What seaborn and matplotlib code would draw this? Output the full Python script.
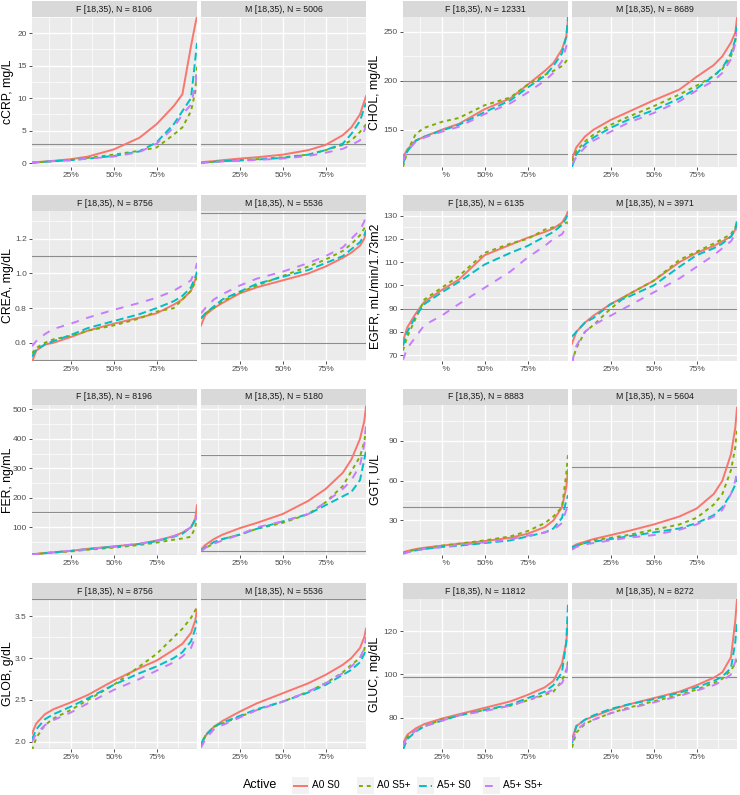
import numpy as np
import pandas as pd
import seaborn as sns
import matplotlib
matplotlib.use("Agg")
import matplotlib.pyplot as plt
from matplotlib.patches import Rectangle
from matplotlib.ticker import FixedLocator, FuncFormatter

# groups / styles
groups = ["A0 S0", "A0 S5+", "A5+ S0", "A5+ S5+"]
colors = ["#F8766D", "#7CAE00", "#00BFC4", "#C77CFF"]
dash_list = ["", (2, 2), (4, 2), (4, 4)]

# quantile grid (x axis)
q = [0.025, 0.05, 0.1, 0.15, 0.25, 0.35, 0.5, 0.65, 0.75, 0.85, 0.9, 0.95, 0.975, 0.985]

# ---- values, one row per group (A0 S0, A0 S5+, A5+ S0, A5+ S5+)
crp_f = [[0.1, 0.15, 0.25, 0.35, 0.6, 1.0, 2.1, 3.9, 6.0, 8.8, 10.6, 18.0, 21.4, 22.6],
         [0.05, 0.1, 0.2, 0.3, 0.5, 0.8, 1.3, 1.9, 2.4, 4.4, 5.5, 8.0, 11.0, 15.0],
         [0.05, 0.1, 0.2, 0.3, 0.45, 0.7, 1.1, 1.8, 3.2, 6.0, 8.0, 10.0, 16.0, 18.5],
         [0.05, 0.1, 0.2, 0.3, 0.45, 0.7, 1.0, 1.7, 3.0, 5.5, 7.5, 9.0, 12.0, 14.0]]
crp_m = [[0.1, 0.2, 0.3, 0.45, 0.7, 0.9, 1.3, 2.0, 2.8, 4.3, 5.5, 7.5, 9.5, 10.3],
         [0.05, 0.1, 0.2, 0.3, 0.45, 0.6, 0.9, 1.3, 2.0, 2.8, 3.5, 4.8, 5.6, 6.0],
         [0.05, 0.1, 0.2, 0.3, 0.4, 0.55, 0.8, 1.3, 2.0, 3.0, 4.5, 6.5, 8.5, 9.3],
         [0.05, 0.1, 0.15, 0.25, 0.35, 0.5, 0.7, 1.1, 1.6, 2.2, 2.8, 3.5, 5.0, 5.7]]
chol_f = [[122, 130, 139, 143, 150, 156, 171, 182, 196, 210, 218, 232, 245, 262],
          [112, 128, 146, 152, 158, 162, 175, 183, 196, 206, 210, 215, 220, 225],
          [115, 128, 139, 143, 149, 155, 168, 180, 193, 205, 215, 228, 245, 265],
          [118, 128, 138, 142, 148, 153, 166, 177, 188, 200, 208, 220, 235, 245]]
chol_m = [[120, 132, 143, 150, 160, 168, 180, 191, 204, 216, 225, 239, 249, 264],
          [118, 128, 138, 145, 155, 163, 174, 186, 195, 205, 212, 225, 240, 255],
          [112, 125, 135, 142, 152, 160, 170, 182, 192, 205, 213, 228, 242, 258],
          [115, 122, 132, 139, 148, 157, 167, 179, 190, 200, 208, 222, 238, 250]]
crea_f = [[0.49, 0.555, 0.59, 0.6, 0.633, 0.67, 0.71, 0.745, 0.77, 0.82, 0.85, 0.9, 0.965, 0.98],
          [0.54, 0.57, 0.6, 0.62, 0.64, 0.67, 0.7, 0.74, 0.78, 0.8, 0.85, 0.9, 0.95, 0.99],
          [0.52, 0.56, 0.59, 0.61, 0.645, 0.685, 0.725, 0.765, 0.8, 0.84, 0.87, 0.92, 0.98, 1.01],
          [0.58, 0.61, 0.65, 0.68, 0.71, 0.745, 0.79, 0.83, 0.86, 0.9, 0.93, 0.96, 1.02, 1.06]]
crea_m = [[0.7, 0.76, 0.8, 0.83, 0.885, 0.92, 0.96, 1.0, 1.04, 1.09, 1.12, 1.16, 1.2, 1.24],
          [0.74, 0.77, 0.8, 0.84, 0.89, 0.93, 0.985, 1.04, 1.08, 1.13, 1.17, 1.22, 1.26, 1.27],
          [0.74, 0.77, 0.81, 0.85, 0.895, 0.94, 0.98, 1.02, 1.06, 1.1, 1.14, 1.18, 1.22, 1.25],
          [0.77, 0.8, 0.85, 0.88, 0.93, 0.97, 1.01, 1.06, 1.1, 1.15, 1.2, 1.25, 1.3, 1.34]]
egfr_f = [[76, 82, 88, 93, 98, 102.5, 113, 117.5, 120.5, 123, 124.5, 127, 130, 132],
          [72, 78, 86, 94, 99, 104, 114, 118, 120, 124, 125, 126, 127, 127],
          [74, 80, 87, 92, 97, 101.5, 109, 114, 117, 121, 123, 126, 129, 131],
          [68, 73, 78, 83, 87, 92, 99, 106, 112, 117, 120, 122, 125, 127]]
egfr_m = [[75, 80, 84, 87, 92, 96, 102, 110, 114, 117, 119, 121, 124, 127],
          [67, 73, 80, 83, 90, 96, 102, 111, 114.5, 118, 120, 122, 125, 127],
          [78, 80, 84, 86, 92, 95, 100, 108, 113, 116, 118, 121, 124, 128],
          [67, 74, 80, 83, 87, 91, 97, 103, 108, 113, 116, 119, 122, 124]]
fer_f = [[8, 10, 13, 15, 20, 27, 35, 44, 55, 70, 82, 100, 130, 175],
         [7, 9, 12, 14, 18, 24, 31, 40, 48, 58, 62, 68, 100, 140],
         [7, 9, 12, 15, 20, 26, 34, 43, 53, 68, 78, 100, 125, 140],
         [6, 9, 12, 15, 20, 26, 35, 44, 54, 70, 82, 100, 120, 140]]
fer_m = [[25, 40, 60, 75, 97, 115, 145, 190, 230, 285, 330, 400, 460, 510],
         [20, 30, 45, 60, 75, 95, 115, 145, 185, 240, 290, 340, 390, 430],
         [20, 32, 50, 60, 75, 95, 120, 145, 175, 205, 220, 260, 330, 360],
         [20, 30, 45, 55, 75, 100, 120, 145, 185, 230, 260, 310, 380, 450]]
ggt_f = [[6, 7, 8.5, 9.5, 11, 12.5, 14.5, 17, 20, 25, 30, 40, 55, 68],
         [5.5, 6.5, 8, 9, 11, 12.5, 15, 18, 22, 28, 33, 40, 65, 80],
         [5, 6, 7.5, 8.5, 10, 11, 13, 15, 18, 21, 24, 32, 45, 49],
         [5, 6, 7.5, 8.5, 10, 11.5, 13.5, 16, 18.5, 21, 23, 28, 38, 40]]
ggt_m = [[10, 12, 14, 16, 19, 22, 27, 33, 39, 50, 60, 80, 100, 115],
         [9, 11, 13, 15, 17, 19, 23, 27, 32, 42, 50, 68, 85, 100],
         [10, 11, 13, 14, 16, 18, 21, 24, 28, 34, 40, 50, 57, 62],
         [8, 10, 12, 13, 15, 17, 19, 23, 27, 33, 38, 50, 60, 67]]
glob_f = [[2.1, 2.22, 2.33, 2.39, 2.47, 2.56, 2.73, 2.88, 2.97, 3.1, 3.17, 3.3, 3.45, 3.58],
          [1.9, 2.05, 2.2, 2.28, 2.38, 2.5, 2.68, 2.9, 3.05, 3.25, 3.35, 3.48, 3.57, 3.62],
          [2.03, 2.15, 2.27, 2.33, 2.42, 2.52, 2.68, 2.82, 2.9, 3.0, 3.07, 3.2, 3.35, 3.45],
          [2.0, 2.1, 2.2, 2.26, 2.35, 2.46, 2.62, 2.75, 2.85, 2.95, 3.02, 3.12, 3.25, 3.3]]
glob_m = [[1.95, 2.07, 2.18, 2.25, 2.36, 2.46, 2.58, 2.7, 2.8, 2.92, 3.0, 3.12, 3.25, 3.35],
          [1.95, 2.07, 2.18, 2.22, 2.3, 2.38, 2.48, 2.6, 2.7, 2.83, 2.92, 3.0, 3.1, 3.2],
          [1.97, 2.08, 2.18, 2.23, 2.31, 2.39, 2.48, 2.59, 2.68, 2.8, 2.86, 2.95, 3.05, 3.1],
          [1.93, 2.03, 2.15, 2.2, 2.29, 2.38, 2.48, 2.6, 2.7, 2.82, 2.9, 3.0, 3.12, 3.25]]
gluc_f = [[68, 72, 75, 77, 79.5, 81.5, 84.5, 87.5, 90.5, 94, 97, 105, 115, 125],
          [67, 71, 74, 76, 79, 81, 83.5, 85.5, 88, 90.5, 92, 97, 102, 106],
          [65, 70, 73.5, 76, 78.5, 81, 83.5, 86, 89, 92, 95, 101, 115, 133],
          [67, 71, 74, 76, 78.5, 81, 83, 85.5, 88, 91, 93, 96, 100, 107]]
gluc_m = [[70, 76, 79, 80.5, 83.5, 86, 89, 92, 95, 98.5, 101, 108, 125, 135],
          [66, 73, 77, 79, 82, 84.5, 87.5, 90.5, 93, 96, 98, 102, 105, 107],
          [68, 76, 79, 81, 84, 86, 88.5, 91.5, 94, 97, 99, 103, 115, 125],
          [69, 74, 77.5, 79, 82, 84, 87, 90, 92.5, 95, 97, 100, 106, 110]]

# sample sizes in strip labels
n_f = [8106, 12331, 8756, 6135, 8196, 8883, 8756, 11812]
n_m = [5006, 8689, 5536, 3971, 5180, 5604, 5536, 8272]

y_titles = ["cCRP, mg/L", "CHOL, mg/dL", "CREA, mg/dL", "EGFR, mL/min/1.73m2",
            "FER, ng/mL", "GGT, U/L", "GLOB, g/dL", "GLUC, mg/dL"]
f_data = [crp_f, chol_f, crea_f, egfr_f, fer_f, ggt_f, glob_f, gluc_f]
m_data = [crp_m, chol_m, crea_m, egfr_m, fer_m, ggt_m, glob_m, gluc_m]

# axis setup per variable: limits, major ticks, tick format
ylims = [(-0.6, 22.5), (112, 265), (0.495, 1.36), (67.5, 132), (6, 515), (4, 117), (1.915, 3.705), (65.4, 135)]
yticks = [[0, 5, 10, 15, 20], [150, 200, 250], [0.6, 0.8, 1.0, 1.2], [70, 80, 90, 100, 110, 120, 130],
          [100, 200, 300, 400, 500], [30, 60, 90], [2.0, 2.5, 3.0, 3.5], [80, 100, 120]]
ytick_fmt = ["{:.0f}", "{:.0f}", "{:.1f}", "{:.0f}", "{:.0f}", "{:.0f}", "{:.1f}", "{:.0f}"]
# reference lines (F panel, M panel)
hlines_f = [[3], [125, 200], [0.5, 1.1], [90], [7, 153], [40], [1.92, 3.7], [99]]
hlines_m = [[3], [125, 200], [0.6, 1.35], [90], [20, 345], [70], [1.92, 3.7], [99]]

# ---- layout in pixels
W, H = 740, 795
col_x = [(32, 197, 201, 366), (403, 568, 572, 737)]
ylab_x = [8, 375]
strip_h = 16

plt.rcParams["font.family"] = ["Liberation Sans", "DejaVu Sans"]
fig = plt.figure(figsize=(W / 100, H / 100), dpi=100)


def px_axes(x0, x1, y0, y1):
    return fig.add_axes([x0 / W, 1 - y1 / H, (x1 - x0) / W, (y1 - y0) / H])


def style_panel(ax, k, show_y, x_labels):
    ax.set_facecolor("#EBEBEB")
    for s in ax.spines.values():
        s.set_visible(False)
    ax.set_xlim(0.025, 0.985)
    ax.set_ylim(*ylims[k])
    ax.xaxis.set_major_locator(FixedLocator([0.25, 0.5, 0.75]))
    ax.xaxis.set_minor_locator(FixedLocator([0.125, 0.375, 0.625, 0.875]))
    ax.set_xticklabels(x_labels)
    yt = yticks[k]
    step = yt[1] - yt[0]
    minors = [yt[0] - step / 2] + [t + step / 2 for t in yt]
    ax.yaxis.set_major_locator(FixedLocator(yt))
    ax.yaxis.set_minor_locator(FixedLocator(minors))
    ax.yaxis.set_major_formatter(FuncFormatter(lambda v, p, f=ytick_fmt[k]: f.format(v)))
    ax.grid(which="major", color="white", lw=1.0)
    ax.grid(which="minor", color="white", lw=0.5)
    ax.set_axisbelow(True)
    ax.tick_params(which="major", length=2.5, width=0.6, color="#333333",
                   labelsize=6.0, labelcolor="#4D4D4D", pad=1.3)
    ax.tick_params(which="minor", length=0)
    if not show_y:
        ax.tick_params(axis="y", which="major", length=0, labelleft=False)
    ax.set_xlabel("")
    ax.set_ylabel("")


def add_strip(ax, text, h_px):
    h = strip_h / h_px
    ax.add_patch(Rectangle((0, 1), 1, h, transform=ax.transAxes, clip_on=False,
                           facecolor="#D9D9D9", edgecolor="none"))
    ax.text(0.5, 1 + h / 2, text, transform=ax.transAxes, ha="center", va="center",
            fontsize=6.3, color="#1A1A1A")


for k in range(8):
    row, col = k // 2, k % 2
    y0 = 17 + 194 * row
    y1 = y0 + 150
    xa0, xa1, xb0, xb1 = col_x[col]
    # the 25% label of the right-hand F panels is cut to "%" in the original
    xl = ["    %", "50%", "75%"] if col == 1 and row < 3 else ["25%", "50%", "75%"]
    panels = [(xa0, xa1, "F", n_f[k], f_data[k], hlines_f[k], True, xl),
              (xb0, xb1, "M", n_m[k], m_data[k], hlines_m[k], False, ["25%", "50%", "75%"])]
    for x0, x1, sex, n, vals, hl, show_y, labs in panels:
        ax = px_axes(x0, x1, y0, y1)
        df = pd.DataFrame({
            "q": q * 4,
            "value": [v for g in vals for v in g],
            "Active": [g for g in groups for _ in q],
        })
        for h in hl:
            ax.axhline(h, color="#8C8C8C", lw=0.8, zorder=1)
        sns.lineplot(data=df, x="q", y="value", hue="Active", style="Active",
                     hue_order=groups, style_order=groups,
                     palette=dict(zip(groups, colors)),
                     dashes=dict(zip(groups, dash_list)),
                     linewidth=1.4, legend=False, ax=ax, zorder=2)
        style_panel(ax, k, show_y, labs)
        add_strip(ax, f"{sex} [18,35), N = {n}", y1 - y0)
    fig.text(ylab_x[col] / W, 1 - (y0 + 75) / H, y_titles[k], rotation=90,
             ha="center", va="center", fontsize=8.8, color="black")

# ---- legend at the bottom
lax = fig.add_axes([0, 0, 1, 30 / H])
lax.set_xlim(0, W)
lax.set_ylim(H, H - 30)
lax.axis("off")
lax.text(243, 785, "Active", ha="left", va="center", fontsize=9)
key_x = [292, 357, 417, 483]
for gx, g, c, d in zip(key_x, groups, colors, dash_list):
    lax.add_patch(Rectangle((gx, 777), 17, 17, facecolor="#F2F2F2", edgecolor="none"))
    ln, = lax.plot([gx + 2, gx + 15], [785.5, 785.5], color=c, lw=1.4)
    if d:
        ln.set_dashes(d)
    lax.text(gx + 20, 785.5, g, ha="left", va="center", fontsize=7.3)

fig.savefig("out.png", dpi=100)
